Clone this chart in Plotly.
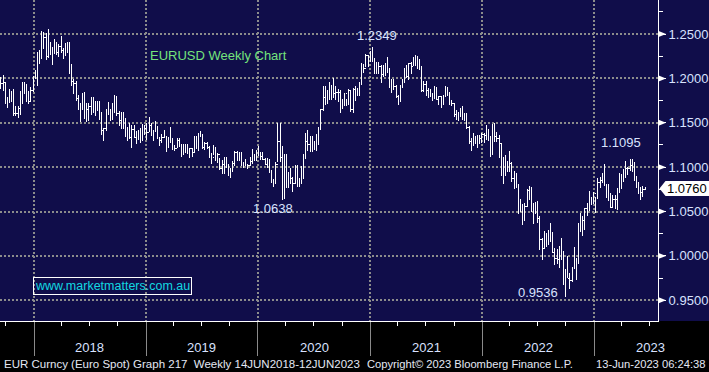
import pandas as pd
import plotly.graph_objects as go

# ---------------- data (weekly EURUSD, week-ending Fridays) ----------------
first_week = "2017-09-15"

close_2017 = [1.1945, 1.1950, 1.1730, 1.1730, 1.1820, 1.1785, 1.1605, 1.1610, 1.1665, 1.1795, 1.1930, 1.1900, 1.1770, 1.1745, 1.1860, 1.2005]
high_2017 = [1.2020, 1.2035, 1.1960, 1.1790, 1.1880, 1.1860, 1.1880, 1.1690, 1.1690, 1.1860, 1.1960, 1.1960, 1.1940, 1.1860, 1.1905, 1.2025]
low_2017 = [1.1880, 1.1860, 1.1715, 1.1670, 1.1730, 1.1730, 1.1575, 1.1575, 1.1555, 1.1590, 1.1715, 1.1830, 1.1730, 1.1715, 1.1740, 1.1850]

close_2018 = [1.2030, 1.2200, 1.2220, 1.2425, 1.2460, 1.2250, 1.2405, 1.2295, 1.2320, 1.2310, 1.2290, 1.2355, 1.2320,
              1.2280, 1.2330, 1.2290, 1.2130, 1.1960, 1.1940, 1.1770, 1.1655, 1.1660, 1.1770, 1.1610, 1.1655, 1.1685,
              1.1745, 1.1685, 1.1720, 1.1655, 1.1565, 1.1410, 1.1440, 1.1620, 1.1600, 1.1550, 1.1625, 1.1745, 1.1605,
              1.1525, 1.1560, 1.1510, 1.1400, 1.1390, 1.1335, 1.1420, 1.1335, 1.1315, 1.1380, 1.1305, 1.1370, 1.1440, 1.1395]
high_2018 = [1.2090, 1.2295, 1.2325, 1.2535, 1.2520, 1.2510, 1.2555, 1.2415, 1.2350, 1.2445, 1.2410, 1.2390, 1.2475,
             1.2345, 1.2395, 1.2415, 1.2415, 1.2160, 1.1995, 1.1970, 1.1810, 1.1725, 1.1840, 1.1850, 1.1720, 1.1720,
             1.1790, 1.1790, 1.1745, 1.1750, 1.1745, 1.1625, 1.1440, 1.1655, 1.1735, 1.1655, 1.1720, 1.1815, 1.1800,
             1.1635, 1.1620, 1.1620, 1.1550, 1.1455, 1.1500, 1.1470, 1.1470, 1.1405, 1.1420, 1.1440, 1.1485, 1.1475, 1.1500]
low_2018 = [1.1995, 1.1915, 1.2165, 1.2220, 1.2335, 1.2205, 1.2235, 1.2260, 1.2155, 1.2270, 1.2260, 1.2240, 1.2290,
            1.2215, 1.2255, 1.2285, 1.2055, 1.1910, 1.1820, 1.1750, 1.1645, 1.1510, 1.1645, 1.1540, 1.1510, 1.1525,
            1.1590, 1.1615, 1.1575, 1.1635, 1.1530, 1.1365, 1.1300, 1.1405, 1.1585, 1.1525, 1.1530, 1.1610, 1.1575,
            1.1460, 1.1430, 1.1430, 1.1335, 1.1300, 1.1315, 1.1215, 1.1325, 1.1265, 1.1310, 1.1270, 1.1300, 1.1360, 1.1310]

close_2019 = [1.1470, 1.1365, 1.1405, 1.1455, 1.1325, 1.1295, 1.1335, 1.1365, 1.1235, 1.1325, 1.1300, 1.1220, 1.1215,
              1.1300, 1.1245, 1.1150, 1.1200, 1.1235, 1.1160, 1.1205, 1.1170, 1.1335, 1.1210, 1.1370, 1.1370, 1.1225,
              1.1270, 1.1220, 1.1125, 1.1110, 1.1200, 1.1090, 1.1145, 1.0985, 1.1030, 1.1075, 1.1015, 1.0940, 1.0980,
              1.1040, 1.1170, 1.1080, 1.1165, 1.1020, 1.1050, 1.1020, 1.1015, 1.1060, 1.1120, 1.1080, 1.1175, 1.1160]
high_2019 = [1.1570, 1.1500, 1.1415, 1.1515, 1.1465, 1.1345, 1.1370, 1.1420, 1.1355, 1.1345, 1.1450, 1.1325, 1.1255,
             1.1325, 1.1325, 1.1265, 1.1265, 1.1265, 1.1265, 1.1215, 1.1215, 1.1350, 1.1350, 1.1390, 1.1410, 1.1375,
             1.1285, 1.1285, 1.1235, 1.1160, 1.1250, 1.1230, 1.1155, 1.1100, 1.1085, 1.1110, 1.1110, 1.1030, 1.0995,
             1.1065, 1.1180, 1.1180, 1.1175, 1.1175, 1.1055, 1.1095, 1.1035, 1.1115, 1.1200, 1.1150, 1.1190, 1.1240]
low_2019 = [1.1395, 1.1355, 1.1290, 1.1395, 1.1320, 1.1235, 1.1275, 1.1330, 1.1175, 1.1215, 1.1275, 1.1195, 1.1180,
            1.1215, 1.1225, 1.1110, 1.1135, 1.1160, 1.1150, 1.1105, 1.1115, 1.1160, 1.1200, 1.1180, 1.1340, 1.1210,
            1.1195, 1.1200, 1.1100, 1.1030, 1.1135, 1.1065, 1.1050, 1.0965, 1.0925, 1.0925, 1.0990, 1.0905, 1.0880,
            1.0940, 1.1010, 1.1070, 1.1070, 1.1010, 1.0990, 1.1015, 1.0980, 1.1010, 1.1040, 1.1065, 1.1070, 1.1125]

close_2020 = [1.1120, 1.1090, 1.1025, 1.1095, 1.0945, 1.0830, 1.0845, 1.1025, 1.1285, 1.1105, 1.0695, 1.1140, 1.0800,
              1.0935, 1.0875, 1.0820, 1.0985, 1.0840, 1.0820, 1.0900, 1.1100, 1.1290, 1.1255, 1.1180, 1.1220, 1.1245,
              1.1300, 1.1425, 1.1655, 1.1780, 1.1785, 1.1840, 1.1795, 1.1905, 1.1835, 1.1845, 1.1840, 1.1630, 1.1715,
              1.1825, 1.1720, 1.1860, 1.1645, 1.1875, 1.1835, 1.1855, 1.1965, 1.2120, 1.2110, 1.2255, 1.2185, 1.2215]
high_2020 = [1.1170, 1.1175, 1.1100, 1.1100, 1.1095, 1.0965, 1.0865, 1.1055, 1.1495, 1.1495, 1.1235, 1.1145, 1.1150,
             1.0950, 1.0990, 1.0890, 1.1020, 1.1020, 1.0875, 1.1010, 1.1145, 1.1385, 1.1420, 1.1350, 1.1350, 1.1300,
             1.1375, 1.1450, 1.1660, 1.1910, 1.1915, 1.1865, 1.1965, 1.1925, 1.2010, 1.1915, 1.1885, 1.1870, 1.1770,
             1.1830, 1.1770, 1.1880, 1.1860, 1.1890, 1.1920, 1.1890, 1.1965, 1.2175, 1.2165, 1.2275, 1.2260, 1.2310]
low_2020 = [1.1085, 1.1085, 1.1020, 1.0990, 1.0940, 1.0825, 1.0780, 1.0805, 1.1055, 1.1055, 1.0635, 1.0640, 1.0770,
            1.0770, 1.0810, 1.0725, 1.0810, 1.0780, 1.0775, 1.0805, 1.0870, 1.1095, 1.1185, 1.1170, 1.1170, 1.1190,
            1.1185, 1.1255, 1.1420, 1.1630, 1.1695, 1.1710, 1.1755, 1.1755, 1.1780, 1.1755, 1.1740, 1.1610, 1.1650,
            1.1690, 1.1690, 1.1700, 1.1620, 1.1605, 1.1745, 1.1800, 1.1800, 1.1925, 1.2060, 1.2130, 1.2130, 1.2180]

close_2021 = [1.2220, 1.2080, 1.2170, 1.2135, 1.2045, 1.2120, 1.2120, 1.2075, 1.1915, 1.1950, 1.1905, 1.1795, 1.1760,
              1.1900, 1.1980, 1.2095, 1.2020, 1.2165, 1.2140, 1.2180, 1.2190, 1.2165, 1.2105, 1.1865, 1.1935, 1.1865,
              1.1875, 1.1810, 1.1770, 1.1870, 1.1760, 1.1795, 1.1700, 1.1795, 1.1880, 1.1815, 1.1725, 1.1720, 1.1595,
              1.1575, 1.1600, 1.1645, 1.1560, 1.1565, 1.1445, 1.1290, 1.1320, 1.1315, 1.1315, 1.1325, 1.1320, 1.1370]
high_2021 = [1.2349, 1.2225, 1.2190, 1.2190, 1.2150, 1.2150, 1.2170, 1.2245, 1.2115, 1.1990, 1.1990, 1.1925, 1.1810,
             1.1925, 1.1995, 1.2115, 1.2150, 1.2170, 1.2185, 1.2245, 1.2265, 1.2255, 1.2220, 1.2145, 1.1975, 1.1975,
             1.1895, 1.1880, 1.1835, 1.1910, 1.1900, 1.1805, 1.1805, 1.1810, 1.1910, 1.1905, 1.1845, 1.1755, 1.1720,
             1.1640, 1.1625, 1.1670, 1.1690, 1.1615, 1.1610, 1.1465, 1.1325, 1.1385, 1.1355, 1.1360, 1.1360, 1.1385]
low_2021 = [1.2190, 1.2055, 1.2055, 1.2055, 1.1950, 1.2020, 1.2025, 1.2065, 1.1895, 1.1835, 1.1875, 1.1780, 1.1705,
            1.1740, 1.1895, 1.1950, 1.2010, 1.1985, 1.2050, 1.2135, 1.2135, 1.2105, 1.2095, 1.1845, 1.1845, 1.1805,
            1.1780, 1.1795, 1.1750, 1.1770, 1.1755, 1.1705, 1.1665, 1.1700, 1.1795, 1.1805, 1.1700, 1.1685, 1.1565,
            1.1530, 1.1525, 1.1570, 1.1535, 1.1515, 1.1430, 1.1265, 1.1185, 1.1235, 1.1265, 1.1220, 1.1260, 1.1275]

close_2022 = [1.1360, 1.1410, 1.1345, 1.1145, 1.1450, 1.1350, 1.1320, 1.1270, 1.0930, 1.0910, 1.1050, 1.0985, 1.1045,
              1.0875, 1.0810, 1.0795, 1.0545, 1.0550, 1.0410, 1.0560, 1.0735, 1.0720, 1.0520, 1.0495, 1.0555, 1.0425,
              1.0180, 1.0080, 1.0210, 1.0220, 1.0180, 1.0260, 1.0040, 0.9965, 0.9955, 1.0040, 1.0015, 0.9690, 0.9800,
              0.9740, 0.9720, 0.9860, 0.9965, 0.9960, 1.0355, 1.0325, 1.0400, 1.0535, 1.0530, 1.0585, 1.0615, 1.0705]
high_2022 = [1.1385, 1.1480, 1.1435, 1.1345, 1.1485, 1.1495, 1.1395, 1.1365, 1.1275, 1.1120, 1.1135, 1.1070, 1.1185,
             1.1055, 1.0955, 1.0935, 1.0805, 1.0640, 1.0590, 1.0600, 1.0750, 1.0785, 1.0775, 1.0600, 1.0610, 1.0615,
             1.0450, 1.0200, 1.0280, 1.0255, 1.0295, 1.0370, 1.0270, 1.0090, 1.0080, 1.0115, 1.0200, 1.0050, 0.9855,
             0.9999, 0.9810, 0.9875, 1.0095, 0.9975, 1.0365, 1.0480, 1.0450, 1.0545, 1.0595, 1.0735, 1.0660, 1.0715]
low_2022 = [1.1270, 1.1310, 1.1300, 1.1120, 1.1150, 1.1280, 1.1280, 1.1105, 1.0900, 1.0805, 1.0900, 1.0945, 1.0945,
            1.0835, 1.0755, 1.0760, 1.0470, 1.0490, 1.0350, 1.0390, 1.0555, 1.0625, 1.0500, 1.0360, 1.0470, 1.0365,
            1.0070, 0.9950, 1.0080, 1.0100, 1.0125, 1.0160, 1.0030, 0.9900, 0.9910, 0.9865, 0.9955, 0.9670, 0.9536,
            0.9750, 0.9630, 0.9705, 0.9855, 0.9730, 0.9910, 1.0270, 1.0225, 1.0290, 1.0445, 1.0510, 1.0575, 1.0590]

close_2023 = [1.0645, 1.0830, 1.0855, 1.0870, 1.0795, 1.0680, 1.0695, 1.0545, 1.0635, 1.0640, 1.0670, 1.0760,
              1.0840, 1.0900, 1.0990, 1.0990, 1.1020, 1.1020, 1.0850, 1.0805, 1.0720, 1.0710, 1.0750, 1.0760]
high_2023 = [1.0665, 1.0875, 1.0890, 1.0930, 1.1035, 1.0805, 1.0805, 1.0705, 1.0690, 1.0690, 1.0760, 1.0930,
             1.0925, 1.0975, 1.1075, 1.1000, 1.1095, 1.1090, 1.1055, 1.0905, 1.0835, 1.0780, 1.0785, 1.0780]
low_2023 = [1.0485, 1.0645, 1.0765, 1.0820, 1.0790, 1.0655, 1.0615, 1.0535, 1.0535, 1.0525, 1.0515, 1.0710,
            1.0760, 1.0835, 1.0880, 1.0910, 1.0960, 1.0945, 1.0845, 1.0760, 1.0700, 1.0635, 1.0665, 1.0745]

first_open = 1.1930

year_labels = ["2018", "2019", "2020", "2021", "2022", "2023"]
price_ticks = [0.95, 1.00, 1.05, 1.10, 1.15, 1.20, 1.25]

chart_title = "EURUSD Weekly Chart"
watermark = "www.marketmatters.com.au"
footer_left = "EUR Curncy (Euro Spot) Graph 217  Weekly 14JUN2018-12JUN2023"
footer_mid = "Copyright\u00a9 2023 Bloomberg Finance L.P."
footer_right = "13-Jun-2023 06:24:38"

# ---------------- assemble ----------------
closes = close_2017 + close_2018 + close_2019 + close_2020 + close_2021 + close_2022 + close_2023
highs = high_2017 + high_2018 + high_2019 + high_2020 + high_2021 + high_2022 + high_2023
lows = low_2017 + low_2018 + low_2019 + low_2020 + low_2021 + low_2022 + low_2023
assert len(closes) == len(highs) == len(lows)
opens = [first_open] + closes[:-1]
dates = pd.date_range(first_week, periods=len(closes), freq="7D")

NAVY = "#100d4a"
LABEL = "#d9e2ff"
GRID = "#8c8c8c"
FONT = "Liberation Sans, Arial, sans-serif"

fig = go.Figure()
fig.add_trace(go.Ohlc(
    x=dates, open=opens, high=highs, low=lows, close=closes,
    increasing=dict(line=dict(color="white", width=1)),
    decreasing=dict(line=dict(color="white", width=1)),
    tickwidth=0.35, hoverinfo="skip", showlegend=False,
))

W, H = 709, 372
ml, mr, mt, mb = 0, 51, 0, 51
pw = W - ml - mr
ph = H - mt - mb

fig.update_layout(
    template="none",
    width=W, height=H,
    margin=dict(l=ml, r=mr, t=mt, b=mb, pad=0, autoexpand=False),
    paper_bgcolor="black", plot_bgcolor=NAVY,
    font=dict(family=FONT, size=13, color=LABEL),
    showlegend=False,
)
fig.update_xaxes(
    type="date", range=["2017-09-12", "2023-07-28"],
    rangeslider_visible=False, automargin=False,
    tick0="2018-01-01", dtick="M12",
    showgrid=True, gridcolor=GRID, gridwidth=2, griddash="2px,2px",
    ticks="outside", ticklen=34, tickcolor="#8a8a8a", tickwidth=1,
    showticklabels=False,
    showline=True, linecolor="white", linewidth=1,
    minor=dict(dtick="M3", tick0="2018-01-01", ticks="outside", ticklen=4,
               tickcolor="white", tickwidth=1, showgrid=False),
    zeroline=False, fixedrange=True,
)
fig.update_yaxes(
    side="right", range=[0.9266, 1.2884], automargin=False,
    tickvals=price_ticks, ticktext=[f"{v:.4f}" for v in price_ticks],
    showgrid=True, gridcolor=GRID, gridwidth=2, griddash="2px,2px",
    ticks="outside", ticklen=7, tickcolor="white", tickwidth=1,
    tickfont=dict(family=FONT, size=13, color=LABEL),
    showline=True, linecolor="white", linewidth=1,
    minor=dict(dtick=0.025, tick0=0.925, ticks="outside", ticklen=4,
               tickcolor="white", tickwidth=1, showgrid=False),
    zeroline=False, fixedrange=True,
)

shapes = []
# navy strip behind the price scale
shapes.append(dict(type="rect", xref="paper", yref="paper", x0=1, x1=W / pw, y0=0, y1=1,
                   fillcolor=NAVY, line=dict(width=0), layer="below"))
# arrow markers on the price scale
dx = 8 / pw
dy = 3.2 / 886
for v in price_ticks:
    shapes.append(dict(type="path", xref="paper", yref="y",
                       path=f"M 1,{v - dy} L {1 + dx},{v} L 1,{v + dy} Z",
                       fillcolor="white", line=dict(color="white", width=0)))
# last price tag
last = closes[-1]
tag_h = 7.5 / 886
tip = 1 + 1.5 / pw
body = 1 + 7.5 / pw
right = W / pw
shapes.append(dict(type="path", xref="paper", yref="y",
                   path=(f"M {tip},{last} L {body},{last + tag_h} L {right},{last + tag_h} "
                         f"L {right},{last - tag_h} L {body},{last - tag_h} Z"),
                   fillcolor="white", line=dict(color="white", width=0)))
fig.update_layout(shapes=shapes)

ann = []
ann.append(dict(xref="paper", yref="y", x=(body + right) / 2, y=last, text=f"{last:.4f}",
                showarrow=False, font=dict(family=FONT, size=13, color="black"),
                xanchor="center", yanchor="middle"))
# year labels centred in each year
for yl in year_labels:
    ann.append(dict(xref="x", yref="paper", x=f"{yl}-07-02", y=-(348 - ph) / ph, text=yl,
                    showarrow=False, font=dict(family=FONT, size=13, color=LABEL),
                    xanchor="center", yanchor="middle"))
# title
ann.append(dict(xref="paper", yref="paper", x=218 / pw, y=1 - 55 / ph, text=chart_title,
                showarrow=False, font=dict(family=FONT, size=13, color="#74e47c"),
                xanchor="center", yanchor="middle"))
# high / low callouts
imax = max(range(len(highs)), key=lambda i: highs[i] if dates[i].year in (2020, 2021) else 0)
ann.append(dict(x=dates[imax], y=highs[imax], text=f"{highs[imax]:.4f}", showarrow=False,
                xanchor="center", yanchor="bottom", xshift=5, yshift=2,
                font=dict(family=FONT, size=13, color=LABEL)))
imin20 = min(range(len(lows)), key=lambda i: lows[i] if dates[i].year == 2020 else 9)
ann.append(dict(x=dates[imin20], y=lows[imin20], text="1.0638", showarrow=False,
                xanchor="center", yanchor="top", xshift=-9, yshift=1,
                font=dict(family=FONT, size=13, color=LABEL)))
imax23 = max(range(len(highs)), key=lambda i: highs[i] if dates[i].year == 2023 else 0)
ann.append(dict(x=dates[imax23], y=highs[imax23], text=f"{highs[imax23]:.4f}", showarrow=False,
                xanchor="center", yanchor="bottom", xshift=-9, yshift=7,
                font=dict(family=FONT, size=13, color=LABEL)))
imin = min(range(len(lows)), key=lambda i: lows[i])
ann.append(dict(x=dates[imin], y=lows[imin], text=f"{lows[imin]:.4f}", showarrow=False,
                xanchor="center", yanchor="middle", xshift=-28, yshift=5,
                font=dict(family=FONT, size=13, color=LABEL)))
# watermark box
ann.append(dict(xref="paper", yref="paper", x=112 / pw, y=1 - 286 / ph, text=watermark,
                showarrow=False, font=dict(family=FONT, size=12.5, color="#12d8e0"),
                bordercolor="white", borderwidth=1, borderpad=1,
                xanchor="center", yanchor="middle"))
# footer
fy = -(364 - ph) / ph
ann.append(dict(xref="paper", yref="paper", x=2 / pw, y=fy, text=footer_left, showarrow=False,
                font=dict(family=FONT, size=11.5, color="#e4e8f4"), xanchor="left", yanchor="middle"))
ann.append(dict(xref="paper", yref="paper", x=365 / pw, y=fy, text=footer_mid, showarrow=False,
                font=dict(family=FONT, size=11.2, color="#e4e8f4"), xanchor="left", yanchor="middle"))
ann.append(dict(xref="paper", yref="paper", x=707 / pw, y=fy, text=footer_right, showarrow=False,
                font=dict(family=FONT, size=11.2, color="#e4e8f4"), xanchor="right", yanchor="middle"))
fig.update_layout(annotations=ann)

post = (
    "document.body.style.margin='0';document.body.style.overflow='hidden';"
    "var st=document.createElement('style');"
    "st.textContent='.trace.ohlc path{shape-rendering:crispEdges;}';"
    "document.head.appendChild(st);"
)
fig.write_html("out.html", config={"displayModeBar": False}, post_script=post)
